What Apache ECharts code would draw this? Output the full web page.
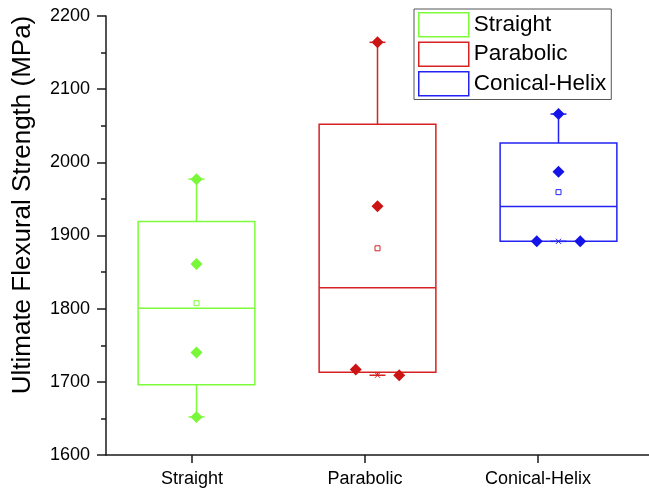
<!DOCTYPE html>
<html>
<head>
<meta charset="utf-8">
<title>Ultimate Flexural Strength</title>
<script src="https://cdn.jsdelivr.net/npm/echarts@6/dist/echarts.min.js"></script>
<style>
  html, body { margin: 0; padding: 0; background: #ffffff; }
  #chart { width: 649px; height: 490px; }
</style>
</head>
<body>
<div id="chart"></div>
<script>
// Specimen groups and their measured strengths (MPa)
const categories = ['Straight', 'Parabolic', 'Conical-Helix'];
const straightValues = [1977, 1861, 1740, 1652];
const parabolicValues = [2164, 1940, 1717, 1709];
const conicalValues = [2066, 1987, 1892, 1892];
const yTicks = [1600, 1700, 1800, 1900, 2000, 2100, 2200];

const groupValues = [straightValues, parabolicValues, conicalValues];
const lineColors = ['#7dfc3b', '#d62222', '#2222f2'];
const dotColors = ['#78f838', '#cc1414', '#1414e8'];

const FONT = "'Liberation Sans', Arial, sans-serif";

function median(arr) {
  const s = arr.slice().sort((a, b) => a - b);
  const n = s.length;
  return n % 2 ? s[(n - 1) / 2] : (s[n / 2 - 1] + s[n / 2]) / 2;
}

// Box statistics: quartiles as medians of the lower / upper halves
function boxStats(values) {
  const s = values.slice().sort((a, b) => a - b);
  const n = s.length;
  const half = Math.floor(n / 2);
  const lower = s.slice(0, half);
  const upper = s.slice(n % 2 ? half + 1 : half);
  const mean = values.reduce((a, b) => a + b, 0) / n;
  return [s[0], median(lower), median(s), median(upper), s[n - 1], mean];
}

// Horizontal spread for points that would overlap each other
function jitterSlots(values, tol) {
  const slots = values.map(() => 0);
  values.forEach((v, i) => {
    const group = [];
    values.forEach((w, j) => { if (Math.abs(v - w) <= tol) group.push(j); });
    const k = group.indexOf(i);
    slots[i] = group.length > 1 ? (k - (group.length - 1) / 2) * 2 : 0;
  });
  return slots;
}

function renderBox(params, api) {
  const idx = params.seriesIndex;
  const color = lineColors[idx];
  const dot = dotColors[idx];
  const cat = api.value(0);
  const vals = [api.value(1), api.value(2), api.value(3), api.value(4), api.value(5), api.value(6)];
  const pts = [api.value(7), api.value(8), api.value(9), api.value(10)];
  const band = api.size([1, 0])[0];
  const cx = api.coord([cat, 1600])[0];
  const Y = v => api.coord([cat, v])[1];
  const bw = band * 0.645;
  const cap = 8;
  const lw = 1.5;
  const [mn, q1, med, q3, mx, mean] = vals;
  const children = [];
  const stroke = { stroke: color, lineWidth: lw, fill: null };

  children.push({ type: 'rect', shape: { x: cx - bw / 2, y: Y(q3), width: bw, height: Y(q1) - Y(q3) }, style: stroke });
  children.push({ type: 'line', shape: { x1: cx - bw / 2, y1: Y(med), x2: cx + bw / 2, y2: Y(med) }, style: stroke });
  children.push({ type: 'line', shape: { x1: cx, y1: Y(q3), x2: cx, y2: Y(mx) }, style: stroke });
  children.push({ type: 'line', shape: { x1: cx, y1: Y(q1), x2: cx, y2: Y(mn) }, style: stroke });
  children.push({ type: 'line', shape: { x1: cx - cap, y1: Y(mx), x2: cx + cap, y2: Y(mx) }, style: stroke });
  children.push({ type: 'line', shape: { x1: cx - cap, y1: Y(mn), x2: cx + cap, y2: Y(mn) }, style: stroke });

  // 1% / 99% crosses at the extremes
  [mn, mx].forEach(v => {
    const y = Y(v), r = 2.6;
    children.push({ type: 'line', shape: { x1: cx - r, y1: y - r, x2: cx + r, y2: y + r }, style: { stroke: color, lineWidth: 1 } });
    children.push({ type: 'line', shape: { x1: cx - r, y1: y + r, x2: cx + r, y2: y - r }, style: { stroke: color, lineWidth: 1 } });
  });

  // mean marker
  children.push({ type: 'rect', shape: { x: cx - 2.5, y: Y(mean) - 2.5, width: 5, height: 5 }, style: { stroke: color, lineWidth: 1, fill: '#ffffff' } });

  // individual data points
  const slots = jitterSlots(pts, 20);
  pts.forEach((v, i) => {
    const x = cx + slots[i] * band * 0.12;
    const y = Y(v), r = 6;
    children.push({ type: 'polygon', shape: { points: [[x, y - r], [x + r, y], [x, y + r], [x - r, y]] }, style: { fill: dot } });
  });

  return { type: 'group', children: children };
}

const boxSeries = categories.map((name, i) => ({
  name: name,
  type: 'custom',
  xAxisIndex: 0,
  yAxisIndex: 0,
  dimensions: ['cat', 'min', 'q1', 'median', 'q3', 'max', 'mean', 'p0', 'p1', 'p2', 'p3'],
  encode: { x: 0, y: [1, 5] },
  itemStyle: { color: lineColors[i] },
  renderItem: renderBox,
  data: [[i].concat(boxStats(groupValues[i]), groupValues[i])]
}));

const chart = echarts.init(document.getElementById('chart'), null, { renderer: 'canvas' });

chart.setOption({
  backgroundColor: '#ffffff',
  animation: false,
  textStyle: { fontFamily: FONT },
  grid: [
    { left: 106, right: 0, top: 16, bottom: 35 },
    { left: 105.5, right: 24.5, top: 16, bottom: 35 }
  ],
  legend: {
    orient: 'vertical',
    left: 414,
    top: 9,
    padding: [3, 5, 3, 4],
    itemWidth: 50,
    itemHeight: 24,
    itemGap: 4,
    selectedMode: false,
    borderColor: '#555555',
    borderWidth: 1,
    textStyle: { fontFamily: FONT, fontSize: 22.5, color: '#000000', lineHeight: 24 },
    data: categories.map((name, i) => ({
      name: name,
      icon: 'rect',
      itemStyle: { color: '#ffffff', borderColor: lineColors[i], borderWidth: 1.5 }
    }))
  },
  xAxis: [
    {
      type: 'category',
      gridIndex: 0,
      data: categories,
      boundaryGap: true,
      axisLine: { show: true, lineStyle: { color: '#1a1a1a', width: 1.5 } },
      axisTick: { show: false },
      axisLabel: { show: false },
      splitLine: { show: false }
    },
    {
      type: 'category',
      gridIndex: 1,
      data: categories,
      boundaryGap: true,
      axisLine: { show: false },
      axisTick: { show: true, alignWithLabel: true, length: 8, lineStyle: { color: '#1a1a1a', width: 1.5 } },
      axisLabel: { show: true, margin: 15, fontSize: 18, color: '#000000', fontFamily: FONT },
      splitLine: { show: false }
    }
  ],
  yAxis: [
    {
      type: 'value',
      gridIndex: 0,
      min: yTicks[0],
      max: yTicks[yTicks.length - 1],
      interval: yTicks[1] - yTicks[0],
      name: 'Ultimate Flexural Strength (MPa)',
      nameLocation: 'middle',
      nameGap: 70,
      nameTextStyle: { fontSize: 26, color: '#000000', fontFamily: FONT, padding: [0, 0, 0, 61] },
      axisLine: { show: true, lineStyle: { color: '#1a1a1a', width: 1.5 } },
      axisTick: { show: true, inside: false, length: 9, lineStyle: { color: '#1a1a1a', width: 1.5 } },
      minorTick: { show: true, splitNumber: 2, length: 5, lineStyle: { color: '#1a1a1a', width: 1.5 } },
      axisLabel: { margin: 16, fontSize: 18, color: '#000000', fontFamily: FONT, formatter: v => String(v) },
      splitLine: { show: false }
    },
    {
      type: 'value',
      gridIndex: 1,
      min: yTicks[0],
      max: yTicks[yTicks.length - 1],
      show: false
    }
  ],
  series: boxSeries
});
</script>
</body>
</html>
